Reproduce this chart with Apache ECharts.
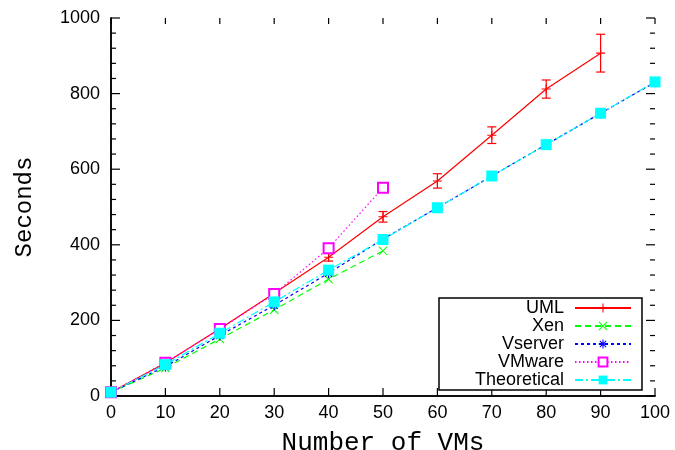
<!DOCTYPE html>
<html><head><meta charset="utf-8">
<script src="https://cdn.jsdelivr.net/npm/echarts@6/dist/echarts.min.js"></script>
<style>html,body{margin:0;padding:0;background:#fff}#c{width:675px;height:450px}</style>
</head><body><div id="c"></div>
<script>
const xVals = [0, 10, 20, 30, 40, 50, 60, 70, 80, 90, 100];
const umlY = [10, 87, 178, 272, 367, 474, 569, 690, 812, 907];
const umlErr = [2, 3, 5, 6, 10, 14, 19, 22, 24, 50];
const xenY = [10, 74, 151, 228, 309, 384];
const vserverY = [10, 78, 160, 240, 325, 415, 498, 582, 665, 748, 830];
const vmwareY = [10, 88, 177, 270, 391, 551];
const theoreticalY = [10, 83, 166, 249, 333, 414, 498, 582, 665, 748, 831];
const xTickVals = [0, 10, 20, 30, 40, 50, 60, 70, 80, 90, 100];
const yMajorTickVals = [0, 200, 400, 600, 800, 1000];
const yMinorTickVals = [40, 80, 120, 160, 240, 280, 320, 360, 440, 480, 520, 560, 640, 680, 720, 760, 840, 880, 920, 960];
const xRange = { min: 0, max: 100, interval: 10 };
const yRange = { min: 0, max: 1000, interval: 200 };

const pair = (ys) => ys.map((y, i) => [xVals[i], y]);
const errData = umlY.map((y, i) => [xVals[i], y - umlErr[i], y + umlErr[i]]);
const yTickData = yMajorTickVals.map(v => [0, v, 1]).concat(yMinorTickVals.map(v => [0, v, 0]));

const plusPath = 'path://M4.4,0h1.2v4.4h4.4v1.2h-4.4v4.4h-1.2v-4.4h-4.4v-1.2h4.4z';
const xPath = 'path://M0,0.8L0.8,0L10,9.2L9.2,10Z M9.2,0L10,0.8L0.8,10L0,9.2Z';
const starPath = 'path://M4.4,0h1.2v4.4h4.4v1.2h-4.4v4.4h-1.2v-4.4h-4.4v-1.2h4.4z M1,1.8L1.8,1L9,8.2L8.2,9Z M8.2,1L9,1.8L1.8,9L1,8.2Z';

const axisCol = '#000';
const lineSt = { show: true, lineStyle: { color: axisCol, width: 1.5 } };
const tickFont = { fontFamily: 'Liberation Sans', fontSize: 18, color: '#000', formatter: (v) => String(v) };
const xBase = { type: 'value', min: xRange.min, max: xRange.max, interval: xRange.interval, splitLine: { show: false }, axisTick: { show: false } };
const yBase = { type: 'value', min: yRange.min, max: yRange.max, interval: yRange.interval, splitLine: { show: false }, axisTick: { show: false } };
const tickStyle = { stroke: axisCol, lineWidth: 1.2 };

const chart = echarts.init(document.getElementById('c'), null, { renderer: 'canvas' });
chart.setOption({
  animation: false,
  backgroundColor: '#fff',
  grid: { left: 111, right: 20, top: 18, bottom: 54, containLabel: false, outerBoundsMode: 'none' },
  legend: {
    data: ['UML', 'Xen', 'Vserver', 'VMware', 'Theoretical'],
    orient: 'vertical',
    right: 33, top: 298,
    align: 'right',
    itemGap: 0,
    itemWidth: 56, itemHeight: 11,
    padding: [1, 10, 1, 21],
    borderColor: '#000', borderWidth: 1.5,
    backgroundColor: '#fff',
    formatter: '{a|{name}}',
    textStyle: {
      fontFamily: 'Liberation Sans', fontSize: 18, color: '#000',
      rich: { a: { width: 104, align: 'right', fontFamily: 'Liberation Sans', fontSize: 18, lineHeight: 18, padding: [0, 6, 0, 0] } }
    }
  },
  xAxis: [
    Object.assign({}, xBase, { position: 'bottom',
      name: 'Number of VMs', nameLocation: 'middle', nameGap: 34,
      nameTextStyle: { fontFamily: 'Liberation Mono', fontSize: 26, color: '#000' },
      axisLine: lineSt, axisLabel: Object.assign({ margin: 8 }, tickFont) }),
    Object.assign({}, xBase, { position: 'top', axisLine: lineSt, axisLabel: { show: false } })
  ],
  yAxis: [
    Object.assign({}, yBase, { position: 'left',
      name: 'Seconds', nameLocation: 'middle', nameGap: 74, nameRotate: 90,
      nameTextStyle: { fontFamily: 'Liberation Mono', fontSize: 24, color: '#000' },
      axisLine: lineSt, axisLabel: Object.assign({ margin: 11 }, tickFont) }),
    Object.assign({}, yBase, { position: 'right', axisLine: lineSt, axisLabel: { show: false } })
  ],
  series: [
    { name: 'xTicks', type: 'custom', data: xTickVals.map(v => [v, 0]), silent: true, z: 1, clip: false,
      renderItem: function (params, api) {
        const x = api.value(0);
        const b = api.coord([x, yRange.min]);
        const t = api.coord([x, yRange.max]);
        return { type: 'group', children: [
          { type: 'line', shape: { x1: b[0], y1: b[1], x2: b[0], y2: b[1] - 8 }, style: tickStyle },
          { type: 'line', shape: { x1: t[0], y1: t[1], x2: t[0], y2: t[1] + 6 }, style: tickStyle }
        ] };
      } },
    { name: 'yTicks', type: 'custom', data: yTickData, silent: true, z: 1, clip: false,
      renderItem: function (params, api) {
        const v = api.value(1);
        const len = api.value(2) ? 9 : 5;
        const l = api.coord([xRange.min, v]);
        const r = api.coord([xRange.max, v]);
        return { type: 'group', children: [
          { type: 'line', shape: { x1: l[0], y1: l[1], x2: l[0] + len, y2: l[1] }, style: tickStyle },
          { type: 'line', shape: { x1: r[0], y1: r[1], x2: r[0] - len, y2: r[1] }, style: tickStyle }
        ] };
      } },
    { name: 'UML', type: 'line', data: pair(umlY), color: '#ff0000',
      symbol: plusPath, symbolSize: 9,
      lineStyle: { color: '#ff0000', width: 1.2, type: 'solid' },
      itemStyle: { color: '#ff0000' } },
    { name: 'UMLerr', type: 'custom', data: errData, z: 3,
      renderItem: function (params, api) {
        const x = api.value(0);
        const lo = api.coord([x, api.value(1)]);
        const hi = api.coord([x, api.value(2)]);
        const w = 4.5;
        const st = { stroke: '#ff0000', lineWidth: 1.2 };
        return { type: 'group', children: [
          { type: 'line', shape: { x1: lo[0], y1: lo[1], x2: hi[0], y2: hi[1] }, style: st },
          { type: 'line', shape: { x1: lo[0] - w, y1: lo[1], x2: lo[0] + w, y2: lo[1] }, style: st },
          { type: 'line', shape: { x1: hi[0] - w, y1: hi[1], x2: hi[0] + w, y2: hi[1] }, style: st }
        ] };
      } },
    { name: 'Xen', type: 'line', data: pair(xenY), color: '#00ff00',
      symbol: xPath, symbolSize: 9,
      lineStyle: { color: '#00ff00', width: 1.2, type: [6, 4] },
      itemStyle: { color: '#00ff00' } },
    { name: 'Vserver', type: 'line', data: pair(vserverY), color: '#0000ff',
      symbol: starPath, symbolSize: 10,
      lineStyle: { color: '#0000ff', width: 1.2, type: [3, 3] },
      itemStyle: { color: '#0000ff' } },
    { name: 'VMware', type: 'line', data: pair(vmwareY), color: '#ff00ff',
      symbol: 'emptyRect', symbolSize: 10,
      lineStyle: { color: '#ff00ff', width: 1.2, type: [1.5, 2.5] },
      itemStyle: { color: '#ff00ff', borderWidth: 1.2 } },
    { name: 'Theoretical', type: 'line', data: pair(theoreticalY), color: '#00ffff',
      symbol: 'rect', symbolSize: 11,
      lineStyle: { color: '#00ffff', width: 1.2, type: [8, 3, 2, 3] },
      itemStyle: { color: '#00ffff' } }
  ]
});
</script></body></html>
